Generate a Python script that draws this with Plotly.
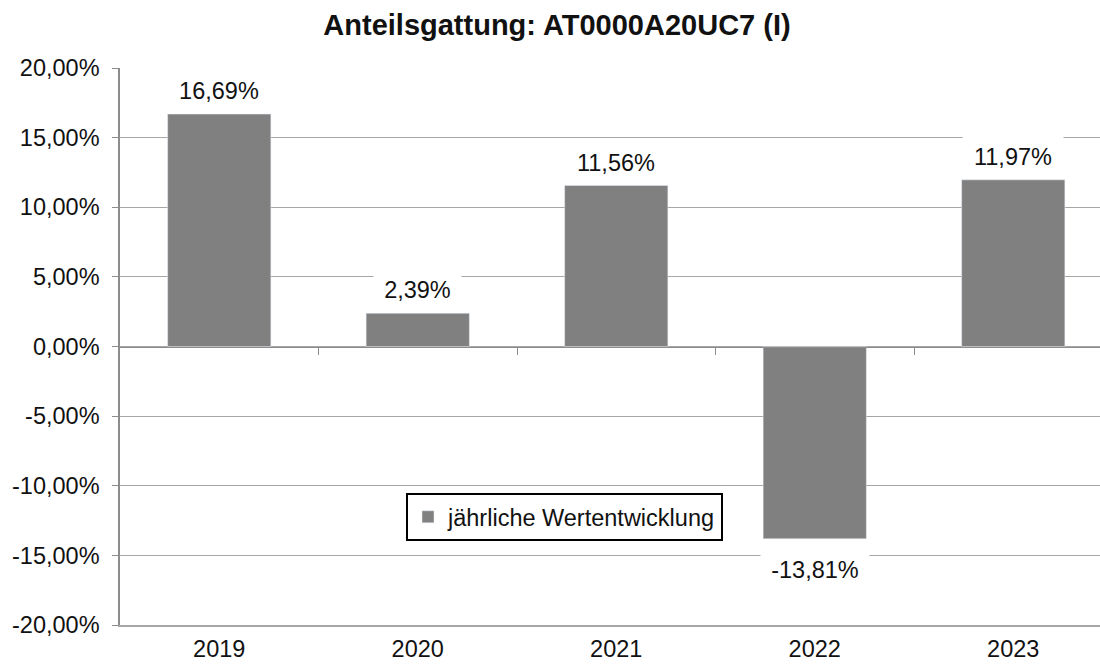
import plotly.graph_objects as go

years = ["2019", "2020", "2021", "2022", "2023"]
returns = [16.69, 2.39, 11.56, -13.81, 11.97]
series_name = "jährliche Wertentwicklung"
title_text = "Anteilsgattung: AT0000A20UC7 (I)"
y_ticks = [20, 15, 10, 5, 0, -5, -10, -15, -20]
y_tick_labels = ["20,00%", "15,00%", "10,00%", "5,00%", "0,00%",
                 "-5,00%", "-10,00%", "-15,00%", "-20,00%"]
boundaries = [0.5, 1.5, 2.5, 3.5]

FONT = "Arial, Liberation Sans, sans-serif"
GRID = "#a6a6a6"
AXIS = "#8c8c8c"
BAR = "#808080"
FS = 23.5


def fmt(v):
    return f"{v:.2f}".replace(".", ",") + "%"


def text_w(s):
    w = {"-": 0.333, ",": 0.278, "%": 0.889}
    return sum(w.get(c, 0.556) for c in s) * FS


fig = go.Figure()
fig.add_trace(go.Bar(
    x=years, y=returns, name=series_name, marker_color=BAR,
    width=0.52, showlegend=True, hoverinfo="skip",
))
fig.add_trace(go.Scatter(x=[], y=[], xaxis="x2", showlegend=False, hoverinfo="skip"))

for i, (yr, v) in enumerate(zip(years, returns)):
    s = fmt(v)
    fig.add_annotation(
        xref="x", yref="y",
        x=i, y=v, text=s, showarrow=False,
        font=dict(family=FONT, size=FS, color="#111111"),
        bgcolor="white", borderpad=2,
        width=round(text_w(s) + 16), height=38,
        yanchor="bottom" if v >= 0 else "top",
        yshift=1 if v >= 0 else -9,
    )

xr = [-0.5, -0.5 + 980 / 198.5]

fig.update_layout(
    width=1100, height=664,
    margin=dict(l=120, r=0, t=68, b=39),
    paper_bgcolor="white", plot_bgcolor="white",
    font=dict(family=FONT, size=FS, color="#111111"),
    title=dict(text=title_text, x=557 / 1100, xanchor="center",
               y=1 - 25 / 664, yanchor="middle",
               font=dict(family=FONT, size=29, color="#111111", weight="bold")),
    xaxis=dict(
        type="category", range=xr, showgrid=False, showline=True,
        linecolor=GRID, linewidth=1.5, ticks="", ticklabelstandoff=2,
        tickfont=dict(size=FS), zeroline=False, automargin=False,
    ),
    xaxis2=dict(
        type="linear", overlaying="x", anchor="free", position=0.5,
        range=xr, showline=True, linecolor=AXIS, linewidth=1.2,
        ticks="outside", tickvals=boundaries, ticklen=7, tickcolor=AXIS,
        tickwidth=1.2, showticklabels=False, showgrid=False, zeroline=False,
        automargin=False,
    ),
    yaxis=dict(
        range=[-20, 20], tickvals=y_ticks, ticktext=y_tick_labels,
        showgrid=True, gridcolor=GRID, gridwidth=1.2,
        showline=True, linecolor=AXIS, linewidth=1.5,
        ticks="outside", ticklen=6, tickcolor=AXIS, tickwidth=1.2,
        ticklabelstandoff=8, zeroline=False, tickfont=dict(size=FS),
        automargin=False,
    ),
    legend=dict(
        x=(406 - 120) / 980, xanchor="left",
        y=(625 - 541) / 557, yanchor="bottom",
        bordercolor="black", borderwidth=2, bgcolor="white",
        font=dict(family=FONT, size=FS, color="#111111"),
        itemwidth=30,
    ),
)

post = "document.body.style.margin='0';document.body.style.overflow='hidden';"
fig.write_html("out.html", post_script=post, config={"displayModeBar": False})
